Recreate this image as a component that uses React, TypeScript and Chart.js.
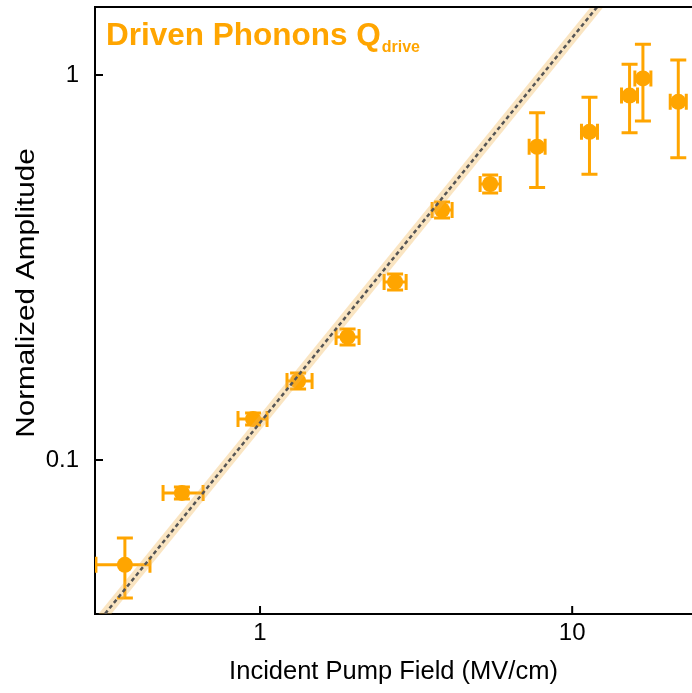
import React, { useEffect, useRef } from "react";
import { Chart, registerables } from "chart.js";

Chart.register(...registerables);

// ---- data ----
const fieldX = [0.369, 0.562, 0.95, 1.324, 1.907, 2.708, 3.83, 5.46, 7.72, 11.36, 15.27, 16.85, 21.87];
const fieldLow = [0.298, 0.489, 0.85, 1.22, 1.752, 2.497, 3.559, 5.07, 7.28, 10.71, 14.39, 15.88, 20.61];
const fieldHigh = [0.444, 0.657, 1.053, 1.468, 2.076, 2.938, 4.124, 5.88, 8.19, 12.05, 16.19, 17.87, 23.2];
const amplitude = [0.0534, 0.0821, 0.1278, 0.1604, 0.2087, 0.29, 0.446, 0.521, 0.651, 0.712, 0.884, 0.98, 0.852];
const ampLow = [0.0438, 0.0792, 0.1233, 0.1529, 0.1989, 0.2764, 0.425, 0.494, 0.51, 0.552, 0.708, 0.76, 0.61];
const ampHigh = [0.0627, 0.0851, 0.1325, 0.1683, 0.2189, 0.304, 0.468, 0.55, 0.798, 0.875, 1.066, 1.202, 1.094];

const fitX = [0.28, 13];
const fitY = [0.035, 1.625];

const xTickValues = [1, 10];
const xTickLabels = ["1", "10"];
const yTickValues = [0.1, 1];
const yTickLabels = ["0.1", "1"];

const TITLE_MAIN = "Driven Phonons Q";
const TITLE_SUB = "drive";
const X_TITLE = "Incident Pump Field (MV/cm)";
const Y_TITLE = "Normalized Amplitude";

const ORANGE = "#FFA500";
const FONT = "'Liberation Sans', Arial, Helvetica, sans-serif";

const errorBarPlugin = {
  id: "errorBars",
  beforeDatasetsDraw(chart: any) {
    const { ctx, chartArea, scales } = chart;
    const xs = scales.x;
    const ys = scales.y;
    const cap = 8;
    ctx.save();
    ctx.beginPath();
    ctx.rect(chartArea.left, chartArea.top, chartArea.right - chartArea.left, chartArea.bottom - chartArea.top);
    ctx.clip();
    ctx.strokeStyle = ORANGE;
    ctx.lineWidth = 3;
    for (let i = 0; i < fieldX.length; i++) {
      const px = xs.getPixelForValue(fieldX[i]);
      const py = ys.getPixelForValue(amplitude[i]);
      const xl = xs.getPixelForValue(fieldLow[i]);
      const xh = xs.getPixelForValue(fieldHigh[i]);
      const yl = ys.getPixelForValue(ampLow[i]);
      const yh = ys.getPixelForValue(ampHigh[i]);
      ctx.beginPath();
      ctx.moveTo(xl, py);
      ctx.lineTo(xh, py);
      ctx.moveTo(xl, py - cap);
      ctx.lineTo(xl, py + cap);
      ctx.moveTo(xh, py - cap);
      ctx.lineTo(xh, py + cap);
      ctx.moveTo(px, yl);
      ctx.lineTo(px, yh);
      ctx.moveTo(px - cap, yl);
      ctx.lineTo(px + cap, yl);
      ctx.moveTo(px - cap, yh);
      ctx.lineTo(px + cap, yh);
      ctx.stroke();
    }
    ctx.restore();
  },
};

const framePlugin = {
  id: "frame",
  afterDraw(chart: any) {
    const { ctx, chartArea, scales } = chart;
    ctx.save();
    ctx.strokeStyle = "#000";
    ctx.lineWidth = 2;
    ctx.beginPath();
    ctx.moveTo(chartArea.left - 1, chartArea.top);
    ctx.lineTo(chartArea.right, chartArea.top);
    const tl = 8;
    for (const v of xTickValues) {
      const px = scales.x.getPixelForValue(v);
      ctx.moveTo(px, chartArea.bottom);
      ctx.lineTo(px, chartArea.bottom - tl);
    }
    for (const v of yTickValues) {
      const py = scales.y.getPixelForValue(v);
      ctx.moveTo(chartArea.left, py);
      ctx.lineTo(chartArea.left + tl, py);
    }
    ctx.stroke();

    // y-axis title (slightly stretched along its length like the reference)
    ctx.save();
    ctx.fillStyle = "#000";
    ctx.font = `25.5px ${FONT}`;
    ctx.textAlign = "center";
    ctx.textBaseline = "middle";
    ctx.translate(27, 293);
    ctx.rotate(-Math.PI / 2);
    ctx.scale(1.16, 1);
    ctx.fillText(Y_TITLE, 0, 0);
    ctx.restore();

    // panel title
    ctx.fillStyle = ORANGE;
    ctx.textBaseline = "alphabetic";
    ctx.textAlign = "left";
    ctx.font = `bold 31.5px ${FONT}`;
    const x0 = chartArea.left + 11;
    ctx.fillText(TITLE_MAIN, x0, 45);
    const w = ctx.measureText(TITLE_MAIN).width;
    ctx.font = `bold 16px ${FONT}`;
    ctx.fillText(TITLE_SUB, x0 + w + 1, 52);
    ctx.restore();
  },
};

const zeroPad = (s: any) => {
  s.paddingTop = 0;
  s.paddingBottom = 0;
  s.paddingLeft = 0;
  s.paddingRight = 0;
};

export default function App() {
  const ref = useRef<HTMLCanvasElement | null>(null);

  useEffect(() => {
    if (!ref.current) return;
    const chart = new Chart(ref.current, {
      type: "scatter",
      data: {
        datasets: [
          {
            label: "Data",
            data: fieldX.map((x, i) => ({ x, y: amplitude[i] })),
            backgroundColor: ORANGE,
            borderWidth: 0,
            pointRadius: 8,
            pointStyle: "circle",
            order: 3,
          } as any,
          {
            type: "line",
            label: "band",
            data: fitX.map((x, i) => ({ x, y: fitY[i] })),
            borderColor: "rgba(240,180,80,0.35)",
            borderWidth: 10,
            pointRadius: 0,
            fill: false,
            order: 2,
          } as any,
          {
            type: "line",
            label: "fit",
            data: fitX.map((x, i) => ({ x, y: fitY[i] })),
            borderColor: "#555555",
            borderWidth: 2.5,
            borderDash: [4, 3],
            pointRadius: 0,
            fill: false,
            order: 1,
          } as any,
        ],
      },
      options: {
        responsive: false,
        animation: false,
        events: [],
        layout: { autoPadding: false, padding: { top: 7, right: 0, bottom: 0, left: 0 } },
        plugins: {
          legend: { display: false },
          tooltip: { enabled: false },
        },
        scales: {
          x: {
            type: "logarithmic",
            position: "bottom",
            min: 0.296,
            max: 24.2,
            afterBuildTicks: (s: any) => {
              s.ticks = xTickValues.map((v) => ({ value: v }));
            },
            afterFit: (s: any) => {
              s.height = 79;
              zeroPad(s);
            },
            grid: { display: true, drawOnChartArea: false, drawTicks: false },
            border: { display: true, color: "#000", width: 2 },
            ticks: {
              color: "#000",
              font: { family: FONT, size: 24 },
              padding: 5,
              autoSkip: false,
              maxRotation: 0,
              callback: (_v: any, i: number) => xTickLabels[i],
            },
            title: {
              display: true,
              text: X_TITLE,
              color: "#000",
              font: { family: FONT, size: 25.5 },
              padding: { top: 0, bottom: 6 },
            },
          },
          y: {
            type: "logarithmic",
            position: "left",
            min: 0.0398,
            max: 1.502,
            afterBuildTicks: (s: any) => {
              s.ticks = yTickValues.map((v) => ({ value: v }));
            },
            afterFit: (s: any) => {
              s.width = 95;
              zeroPad(s);
            },
            grid: { display: true, drawOnChartArea: false, drawTicks: false },
            border: { display: true, color: "#000", width: 2 },
            ticks: {
              color: "#000",
              font: { family: FONT, size: 24 },
              padding: 16,
              autoSkip: false,
              callback: (_v: any, i: number) => yTickLabels[i],
            },
            title: { display: false },
          },
        },
      } as any,
      plugins: [errorBarPlugin, framePlugin],
    });
    return () => chart.destroy();
  }, []);

  return (
    <div style={{ position: "absolute", left: 0, top: 0, width: 692, height: 693, background: "#fff" }}>
      <canvas ref={ref} width={692} height={693} style={{ display: "block" }} />
    </div>
  );
}
